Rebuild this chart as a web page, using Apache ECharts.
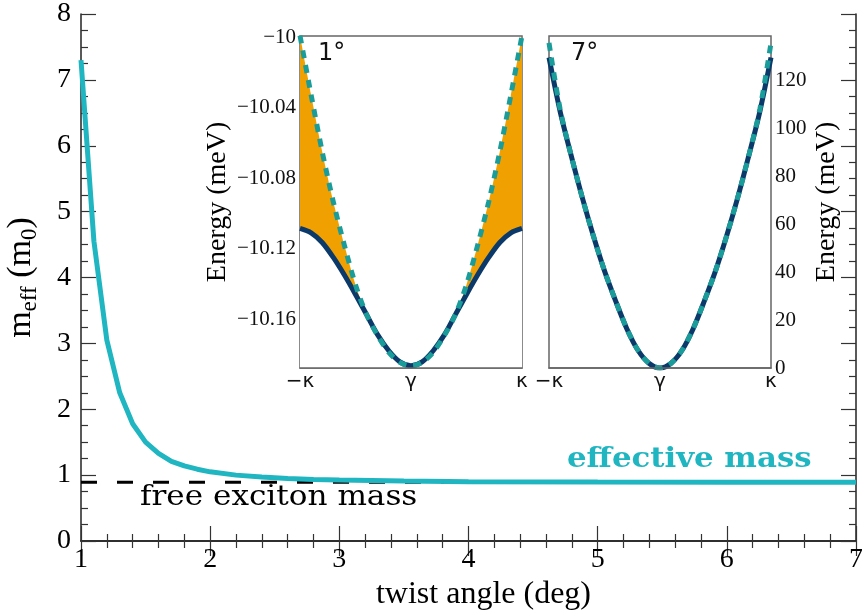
<!DOCTYPE html>
<html><head><meta charset="utf-8">
<script src="https://cdn.jsdelivr.net/npm/echarts@6/dist/echarts.min.js"></script>
<style>html,body{margin:0;padding:0;background:#fff}#c{width:862px;height:614px}</style>
</head><body><div id="c"></div>
<script>
// ---- main panel data ----
const twistAngles = [1.0, 1.1, 1.2, 1.3, 1.4, 1.5, 1.6, 1.7, 1.8, 1.9, 2.0, 2.2, 2.4, 2.6, 2.8, 3.0, 3.5, 4.0, 5.0, 6.0, 7.0];
const effectiveMass = [7.30, 4.55, 3.05, 2.25, 1.78, 1.50, 1.33, 1.21, 1.14, 1.09, 1.05, 1.00, 0.97, 0.95, 0.935, 0.925, 0.91, 0.90, 0.895, 0.892, 0.89];
const freeExcitonMass = 0.89;
const angleTicks = [1, 2, 3, 4, 5, 6, 7];
const massTicks = [0, 1, 2, 3, 4, 5, 6, 7, 8];

// ---- inset data (path -K .. Gamma .. K) ----
const kPath = [-1, -0.9, -0.8, -0.7, -0.6, -0.5, -0.4, -0.3, -0.2, -0.1, 0, 0.1, 0.2, 0.3, 0.4, 0.5, 0.6, 0.7, 0.8, 0.9, 1];
const band1deg = [-10.1085, -10.1110, -10.1165, -10.1250, -10.1350, -10.1460, -10.1575, -10.1690, -10.1780, -10.1843, -10.1865,
                  -10.1843, -10.1780, -10.1690, -10.1575, -10.1460, -10.1350, -10.1250, -10.1165, -10.1110, -10.1085];
const parabola1deg = [-9.9990, -10.0326, -10.0649, -10.0934, -10.1181, -10.1405, -10.1575, -10.1694, -10.1789, -10.1846, -10.1865,
                      -10.1846, -10.1789, -10.1694, -10.1575, -10.1405, -10.1181, -10.0934, -10.0649, -10.0326, -9.9990];
const band7deg = [129.4, 107, 88.5, 71, 55, 40.5, 28, 16.5, 7.5, 2.0, 0, 2.0, 7.5, 16.5, 28, 40.5, 55, 71, 88.5, 107, 129.4];
const parabola7deg = [135.5, 108, 88.5, 71, 55, 40.5, 28, 16.5, 7.5, 2.0, 0, 2.0, 7.5, 16.5, 28, 40.5, 55, 71, 88.5, 108, 135.5];
const pathTicks = [-1, 0, 1];
const pathLabels = ['−κ', 'γ', 'κ'];
const energyTicks1 = [-10, -10.04, -10.08, -10.12, -10.16];
const energyTicks7 = [0, 20, 40, 60, 80, 100, 120];

const SERIF = "'Liberation Serif','Times New Roman',serif";
const SANS = "'DejaVu Sans',sans-serif";
const DSERIF = "'DejaVu Serif',serif";
const TEAL = '#1fb5c1';
const NAVY = '#0b3a6a';
const DTEAL = '#1a9d9a';
const ORANGE = '#f0a000';

const pairs = (xs, ys) => xs.map((x, i) => [x, ys[i]]);

const mainAxisLine = {show: true, lineStyle: {color: '#222', width: 1.5}};
const mainTick = {show: true, inside: true, length: 15, lineStyle: {color: '#333', width: 1.2}};
const mainMinor = (n) => ({show: true, splitNumber: n, length: 7, lineStyle: {color: '#333', width: 1.2}});
const insetBorder = {show: true, lineStyle: {color: '#666', width: 1.5}};

const chart = echarts.init(document.getElementById('c'), null, {renderer: 'canvas'});
chart.setOption({
  animation: false,
  backgroundColor: '#fff',
  grid: [
    {left: 81, top: 14, right: 6, bottom: 73, outerBoundsMode: 'none'},
    {left: 300, top: 36, width: 222, height: 332, show: true, backgroundColor: '#fff', borderColor: '#666', borderWidth: 1.5, outerBoundsMode: 'none'},
    {left: 549, top: 36, width: 222, height: 332, show: true, backgroundColor: '#fff', borderColor: '#666', borderWidth: 1.5, outerBoundsMode: 'none'}
  ],
  xAxis: [
    {gridIndex: 0, type: 'value', min: 1, max: 7, interval: 1, position: 'bottom',
     axisLine: mainAxisLine, axisTick: mainTick, minorTick: mainMinor(5), splitLine: {show: false},
     axisLabel: {customValues: angleTicks, fontFamily: SERIF, fontSize: 28, color: '#000', margin: 5},
     name: 'twist angle (deg)', nameLocation: 'middle', nameGap: 30,
     nameTextStyle: {fontFamily: SERIF, fontSize: 32, color: '#000', padding: [0, 0, 0, 30]}},
    {gridIndex: 0, type: 'value', min: 1, max: 7, interval: 1, position: 'top',
     axisLine: mainAxisLine, axisTick: mainTick, minorTick: mainMinor(5), splitLine: {show: false},
     axisLabel: {show: false}},
    {gridIndex: 1, type: 'value', min: -1, max: 1, axisLine: insetBorder, axisTick: {show: false},
     splitLine: {show: false}, z: 5,
     axisLabel: {customValues: pathTicks, formatter: v => pathLabels[pathTicks.indexOf(v)],
                 fontFamily: SANS, fontSize: 20, color: '#111', margin: 4}},
    {gridIndex: 2, type: 'value', min: -1, max: 1, axisLine: insetBorder, axisTick: {show: false},
     splitLine: {show: false}, z: 5,
     axisLabel: {customValues: pathTicks, formatter: v => pathLabels[pathTicks.indexOf(v)],
                 fontFamily: SANS, fontSize: 20, color: '#111', margin: 4}}
  ],
  yAxis: [
    {gridIndex: 0, type: 'value', min: 0, max: 8, interval: 1, position: 'left',
     axisLine: mainAxisLine, axisTick: mainTick, minorTick: mainMinor(4), splitLine: {show: false},
     axisLabel: {customValues: massTicks, fontFamily: SERIF, fontSize: 28, color: '#000', margin: 10},
     name: '{m|m}{s|eff}{m| (m}{s|0}{m|)}', nameLocation: 'middle', nameGap: 40, nameRotate: 90,
     nameTextStyle: {fontFamily: SERIF, color: '#000',
       rich: {m: {fontFamily: SERIF, fontSize: 34, lineHeight: 40, color: '#000'},
              s: {fontFamily: SERIF, fontSize: 23, lineHeight: 20, verticalAlign: 'bottom', color: '#000'}}}},
    {gridIndex: 0, type: 'value', min: 0, max: 8, interval: 1, position: 'right',
     axisLine: mainAxisLine, axisTick: mainTick, minorTick: mainMinor(4), splitLine: {show: false},
     axisLabel: {show: false}},
    {gridIndex: 1, type: 'value', min: -10.1878, max: -9.9992, position: 'left',
     axisLine: {show: false}, axisTick: {show: false}, splitLine: {show: false},
     axisLabel: {customValues: energyTicks1, formatter: v => String(v).replace('-', '−'),
                 fontFamily: SERIF, fontSize: 21, color: '#111', margin: 4},
     name: 'Energy (meV)', nameLocation: 'middle', nameGap: 68, nameRotate: 90,
     nameTextStyle: {fontFamily: SERIF, fontSize: 28, color: '#000'}},
    {gridIndex: 2, type: 'value', min: 0, max: 138.4, position: 'right',
     axisLine: {show: false}, axisTick: {show: false}, splitLine: {show: false},
     axisLabel: {customValues: energyTicks7, fontFamily: SERIF, fontSize: 21, color: '#111', margin: 4},
     name: 'Energy (meV)', nameLocation: 'middle', nameGap: 42, nameRotate: 90,
     nameTextStyle: {fontFamily: SERIF, fontSize: 28, color: '#000'}}
  ],
  series: [
    {type: 'line', xAxisIndex: 0, yAxisIndex: 0, symbol: 'none', z: 2,
     data: [[twistAngles[0], freeExcitonMass], [twistAngles[twistAngles.length - 1], freeExcitonMass]],
     lineStyle: {color: '#000', width: 3, type: [16, 20]}},
    {type: 'line', xAxisIndex: 0, yAxisIndex: 0, symbol: 'none', z: 3,
     data: pairs(twistAngles, effectiveMass), lineStyle: {color: TEAL, width: 5}},
    // inset 1: orange region between the parabola and the band (orange under parabola, white under band)
    {type: 'line', xAxisIndex: 2, yAxisIndex: 2, symbol: 'none', smooth: 0.3, z: 1,
     data: pairs(kPath, parabola1deg), lineStyle: {opacity: 0, width: 0},
     areaStyle: {color: ORANGE, opacity: 1, origin: 'start'}},
    {type: 'line', xAxisIndex: 2, yAxisIndex: 2, symbol: 'none', smooth: 0.3, z: 2,
     data: pairs(kPath, band1deg), lineStyle: {opacity: 0, width: 0},
     areaStyle: {color: '#fff', opacity: 1, origin: 'start'}},
    {type: 'line', xAxisIndex: 2, yAxisIndex: 2, symbol: 'none', smooth: 0.3, z: 3,
     data: pairs(kPath, band1deg), lineStyle: {color: NAVY, width: 5}},
    {type: 'line', xAxisIndex: 2, yAxisIndex: 2, symbol: 'none', smooth: 0.3, z: 4,
     data: pairs(kPath, parabola1deg), lineStyle: {color: DTEAL, width: 5, type: [8, 7], cap: 'butt'}},
    // inset 2
    {type: 'line', xAxisIndex: 3, yAxisIndex: 3, symbol: 'none', smooth: 0.3, z: 3,
     data: pairs(kPath, band7deg), lineStyle: {color: NAVY, width: 5}},
    {type: 'line', xAxisIndex: 3, yAxisIndex: 3, symbol: 'none', smooth: 0.3, z: 4,
     data: pairs(kPath, parabola7deg), lineStyle: {color: DTEAL, width: 5, type: [8, 7], cap: 'butt'}}
  ],
  graphic: [
    {type: 'text', x: 140, y: 498, z: 10, scaleX: 1.11,
     style: {text: 'free exciton mass', fontFamily: DSERIF, fontSize: 28, fill: '#000', textAlign: 'left', textVerticalAlign: 'middle'}},
    {type: 'text', x: 567, y: 460, z: 10, scaleX: 1.1,
     style: {text: 'effective mass', fontFamily: DSERIF, fontSize: 28, fontWeight: 'bold', fill: TEAL, textAlign: 'left', textVerticalAlign: 'middle'}},
    {type: 'text', x: 318, y: 54, z: 10,
     style: {text: '1°', fontFamily: SANS, fontSize: 24, fill: '#111', textAlign: 'left', textVerticalAlign: 'middle'}},
    {type: 'text', x: 571, y: 54, z: 10,
     style: {text: '7°', fontFamily: SANS, fontSize: 24, fill: '#111', textAlign: 'left', textVerticalAlign: 'middle'}}
  ]
});
</script></body></html>
